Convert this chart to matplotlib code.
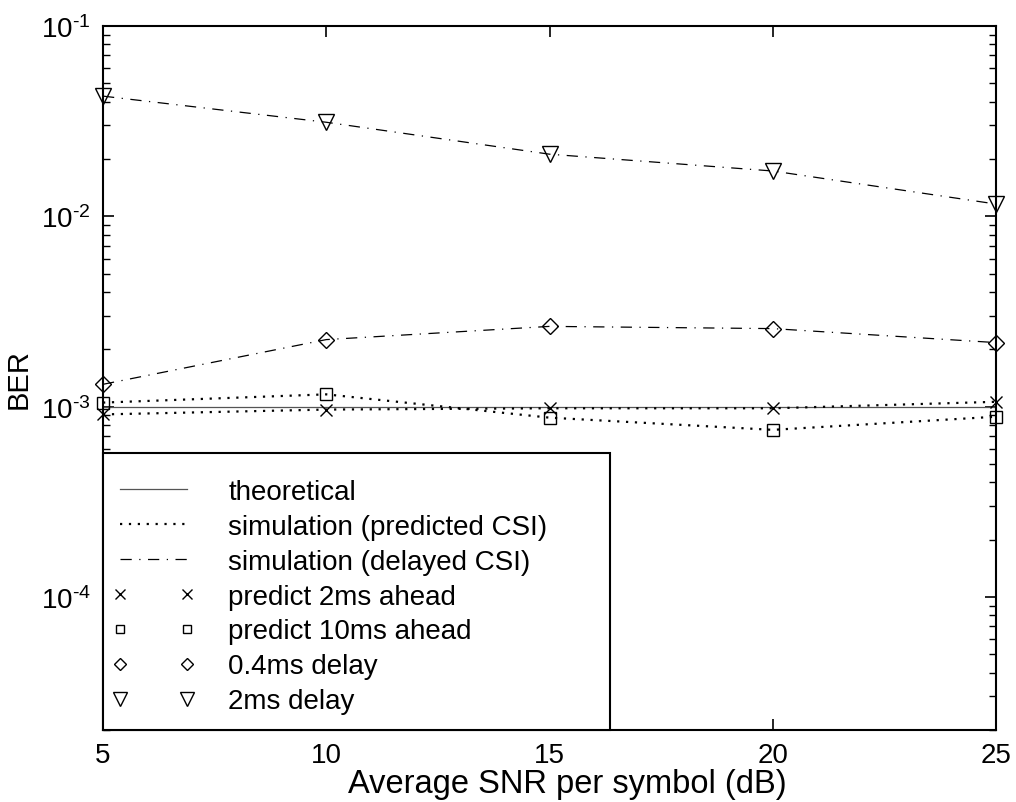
import matplotlib
matplotlib.use("Agg")
import matplotlib.pyplot as plt
from matplotlib.patches import Rectangle
from matplotlib.ticker import LogLocator, NullFormatter, FixedLocator

plt.rcParams['font.family'] = ['Liberation Sans', 'DejaVu Sans']
plt.rcParams['mathtext.fontset'] = 'custom'
plt.rcParams['mathtext.rm'] = 'Liberation Sans'
plt.rcParams['mathtext.it'] = 'Liberation Sans'

snr = [5, 10, 15, 20, 25]
theoretical = [1.0e-3, 1.0e-3, 1.0e-3, 1.0e-3, 1.0e-3]
pred_2ms = [9.1e-4, 9.65e-4, 9.8e-4, 9.8e-4, 1.06e-3]
pred_10ms = [1.05e-3, 1.16e-3, 8.75e-4, 7.55e-4, 8.85e-4]
delay_04ms = [1.31e-3, 2.25e-3, 2.64e-3, 2.57e-3, 2.17e-3]
delay_2ms = [4.28e-2, 3.12e-2, 2.12e-2, 1.73e-2, 1.16e-2]

xticks = [5, 10, 15, 20, 25]
yticks = [1e-4, 1e-3, 1e-2, 1e-1]
ytick_labels = [r'$\mathregular{10^{\text{-}4}}$', r'$\mathregular{10^{\text{-}3}}$',
                r'$\mathregular{10^{\text{-}2}}$', r'$\mathregular{10^{\text{-}1}}$']
labels = ['theoretical', 'simulation (predicted CSI)', 'simulation (delayed CSI)',
          'predict 2ms ahead', 'predict 10ms ahead', '0.4ms delay', '2ms delay']

fig = plt.figure(figsize=(10.16, 8.03), dpi=100)
ax = fig.add_axes([0.1014, 0.0897, 0.8789, 0.8767])

lw = 0.9
dotted = (0, (1, 3))
dashdot = (0, (9, 6, 1, 6))
h_theo, = ax.plot(snr, theoretical, '-', color='#555555', lw=lw)
ax.plot(snr, pred_2ms, linestyle=dotted, color='black', lw=1.6)
h_pred, = ax.plot(snr, pred_10ms, linestyle=dotted, color='black', lw=1.6)
ax.plot(snr, delay_04ms, linestyle=dashdot, color='black', lw=lw)
h_del, = ax.plot(snr, delay_2ms, linestyle=dashdot, color='black', lw=lw)

h_x, = ax.plot(snr, pred_2ms, 'x', color='black', ms=9, mew=1.0, clip_on=False)
h_s, = ax.plot(snr, pred_10ms, 's', color='black', mfc='none', ms=8, mew=1.0, clip_on=False)
h_d, = ax.plot(snr, delay_04ms, 'D', color='black', mfc='none', ms=8, mew=1.0, clip_on=False)
h_v, = ax.plot(snr, delay_2ms, 'v', color='black', mfc='none', ms=12, mew=1.0, clip_on=False)

ax.set_yscale('log')
ax.set_xlim(5, 25)
ax.set_ylim(2e-5, 1e-1)
ax.xaxis.set_major_locator(FixedLocator(xticks))
ax.set_xticklabels([str(v) for v in xticks])
ax.set_yticks(yticks)
ax.set_yticklabels(ytick_labels)
ax.yaxis.set_minor_locator(LogLocator(base=10, subs=range(2, 10)))
ax.yaxis.set_minor_formatter(NullFormatter())
ax.tick_params(which='both', direction='in', top=True, right=True, labelsize=20)
ax.tick_params(which='major', length=8, width=1.2)
ax.tick_params(which='minor', length=5, width=1.0)
ax.tick_params(axis='x', which='major', pad=9)
ax.tick_params(axis='y', which='major', pad=9)
for s in ax.spines.values():
    s.set_linewidth(1.5)

ax.set_xlabel('Average SNR per symbol (dB)', fontsize=23.5)
ax.xaxis.set_label_coords(0.52, -0.0875)
ax.xaxis.label.set_va('baseline')
ax.set_ylabel('BER', fontsize=21, labelpad=6)

# legend box (MATLAB-style wide frame)
ax.add_patch(Rectangle((0.0, 0.0), 0.568, 0.393, transform=ax.transAxes,
                       facecolor='white', edgecolor='black', lw=1.5, zorder=4.5,
                       clip_on=False))
leg = ax.legend([h_theo, h_pred, h_del, h_x, h_s, h_d, h_v], labels,
                loc='upper left', bbox_to_anchor=(0.010, 0.3566),
                numpoints=2, markerscale=0.8,
                fontsize=20, frameon=False, borderaxespad=0.0, borderpad=0.0,
                handlelength=3.0, handletextpad=1.19, labelspacing=0.32)

fig.savefig('out.png', dpi=100)
